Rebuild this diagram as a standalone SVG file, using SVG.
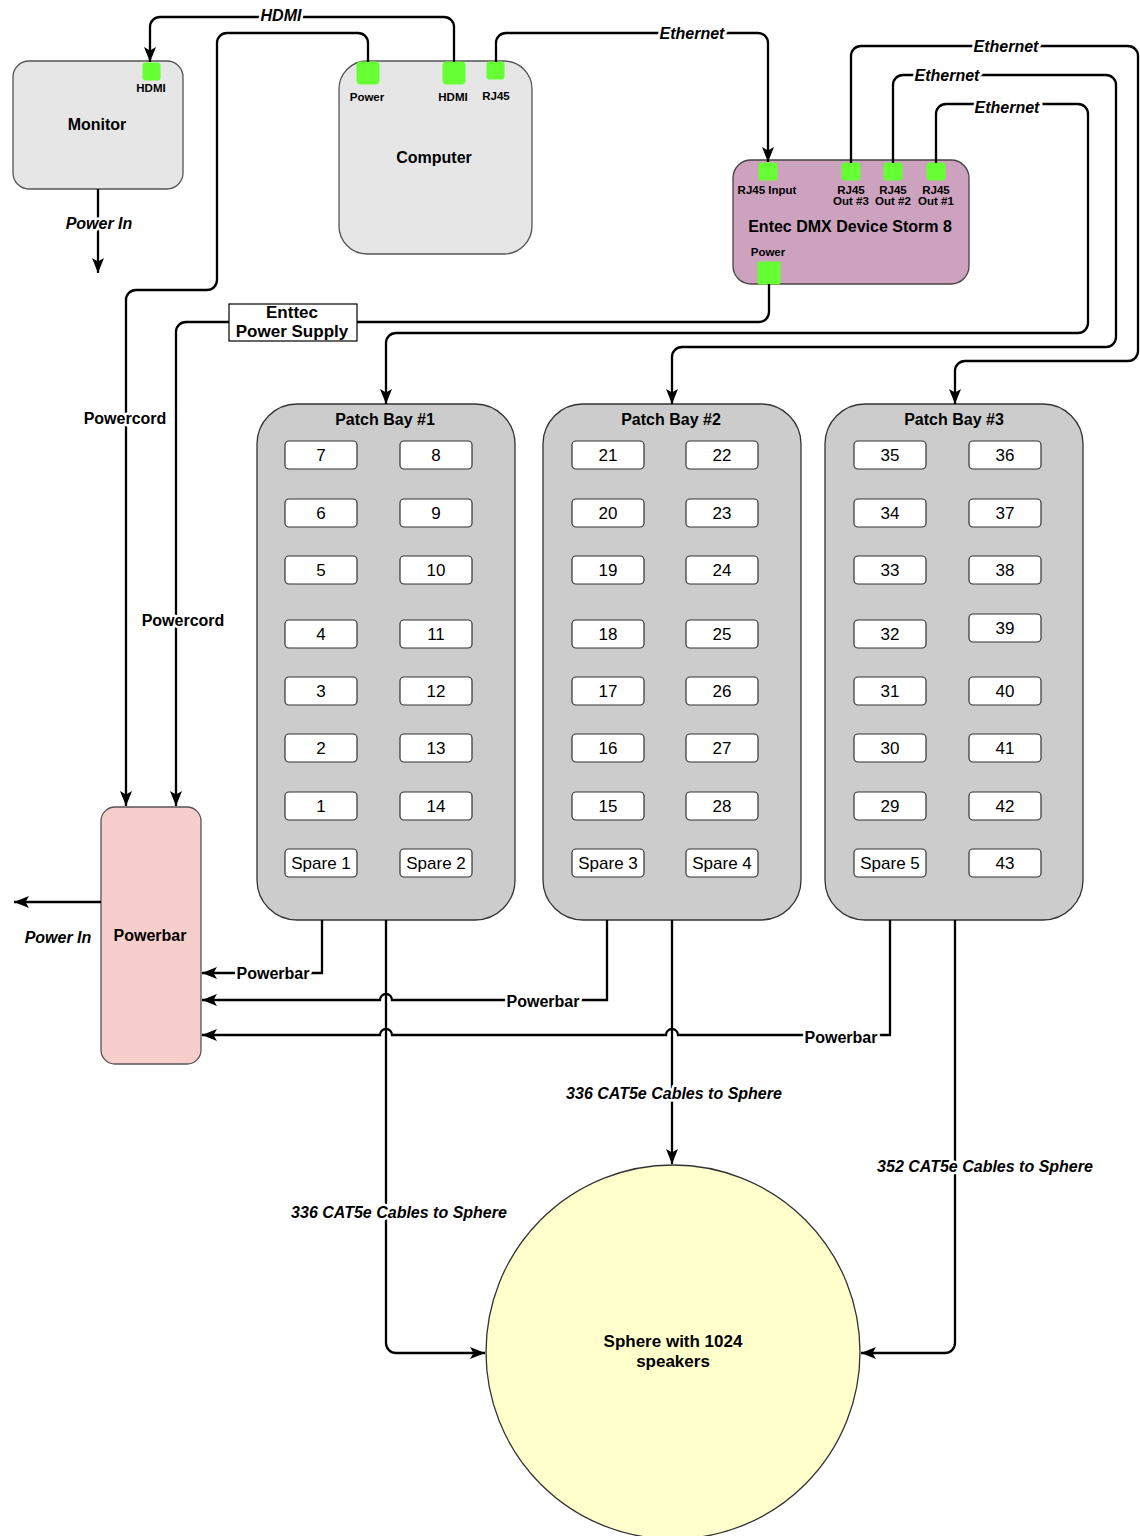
<svg xmlns="http://www.w3.org/2000/svg" width="1140" height="1536" viewBox="0 0 1140 1536">
<style>
text{font-family:"Liberation Sans",Arial,sans-serif;text-anchor:middle;fill:#000}
.node{stroke-width:1.3}
.t{font-weight:bold;font-size:16px}
.pl{font-weight:bold;font-size:11.5px}
.el{font-weight:bold;font-style:italic;font-size:16px;paint-order:stroke;stroke:#fff;stroke-width:5px;stroke-linejoin:round}
.eb{font-weight:bold;font-size:16px;paint-order:stroke;stroke:#fff;stroke-width:5px;stroke-linejoin:round}
.port{fill:#66FF33;stroke:#66FF33;stroke-width:1}
.slot{fill:#fff;stroke:#333;stroke-width:1.2}
.sn{font-size:17px}
.bay{fill:#CCCCCC;stroke:#333;stroke-width:1.3}
.ca{fill:none;stroke:#000;stroke-width:2.3;marker-end:url(#arr)}
</style>
<defs>
<marker id="arr" markerUnits="userSpaceOnUse" markerWidth="16" markerHeight="16" viewBox="0 0 16 16" refX="15" refY="8" orient="auto">
<path d="M0 2 L15 8 L0 14 L3.5 8 Z" fill="#000"/>
</marker>
</defs>
<rect width="1140" height="1536" fill="#fff"/>

<g id="monitor">
<rect class="node" x="13" y="61" width="170" height="128" rx="16" fill="#E6E6E6" stroke="#555"/>
<rect class="port" x="143" y="63" width="17" height="17" rx="2"/>
<text class="pl" x="151" y="92">HDMI</text>
<text class="t" x="97" y="130">Monitor</text>
</g>

<g id="computer">
<rect class="node" x="339" y="61" width="193" height="193" rx="28" fill="#E6E6E6" stroke="#555"/>
<rect class="port" x="357" y="62" width="22" height="22" rx="3"/>
<rect class="port" x="443" y="62" width="22" height="22" rx="3"/>
<rect class="port" x="487" y="62" width="17" height="17" rx="2"/>
<text class="pl" x="367" y="101">Power</text>
<text class="pl" x="453" y="101">HDMI</text>
<text class="pl" x="496" y="100">RJ45</text>
<text class="t" x="434" y="163">Computer</text>
</g>

<g id="dmx">
<rect class="node" x="733" y="160" width="236" height="124" rx="18" fill="#CDA2BE" stroke="#444"/>
<rect class="port" x="759" y="163" width="18" height="17" rx="2"/>
<rect class="port" x="842" y="163" width="18" height="17" rx="2"/>
<rect class="port" x="884" y="163" width="18" height="17" rx="2"/>
<rect class="port" x="927" y="163" width="18" height="17" rx="2"/>
<rect class="port" x="758" y="262" width="22" height="22" rx="1"/>
<text class="pl" x="767" y="194">RJ45 Input</text>
<text class="pl" x="851" y="194">RJ45</text><text class="pl" x="851" y="205">Out #3</text>
<text class="pl" x="893" y="194">RJ45</text><text class="pl" x="893" y="205">Out #2</text>
<text class="pl" x="936" y="194">RJ45</text><text class="pl" x="936" y="205">Out #1</text>
<text class="t" x="850" y="232">Entec DMX Device Storm 8</text>
<text class="pl" x="768" y="256">Power</text>
</g>

<g id="patchbay1">
<rect class="bay" x="257" y="404" width="258" height="516" rx="40"/>
<text class="t" x="385" y="425">Patch Bay #1</text>
<rect class="slot" x="285" y="441" width="72" height="28" rx="4"/><text class="sn" x="321" y="461">7</text>
<rect class="slot" x="400" y="441" width="72" height="28" rx="4"/><text class="sn" x="436" y="461">8</text>
<rect class="slot" x="285" y="499" width="72" height="28" rx="4"/><text class="sn" x="321" y="519">6</text>
<rect class="slot" x="400" y="499" width="72" height="28" rx="4"/><text class="sn" x="436" y="519">9</text>
<rect class="slot" x="285" y="556" width="72" height="28" rx="4"/><text class="sn" x="321" y="576">5</text>
<rect class="slot" x="400" y="556" width="72" height="28" rx="4"/><text class="sn" x="436" y="576">10</text>
<rect class="slot" x="285" y="620" width="72" height="28" rx="4"/><text class="sn" x="321" y="640">4</text>
<rect class="slot" x="400" y="620" width="72" height="28" rx="4"/><text class="sn" x="436" y="640">11</text>
<rect class="slot" x="285" y="677" width="72" height="28" rx="4"/><text class="sn" x="321" y="697">3</text>
<rect class="slot" x="400" y="677" width="72" height="28" rx="4"/><text class="sn" x="436" y="697">12</text>
<rect class="slot" x="285" y="734" width="72" height="28" rx="4"/><text class="sn" x="321" y="754">2</text>
<rect class="slot" x="400" y="734" width="72" height="28" rx="4"/><text class="sn" x="436" y="754">13</text>
<rect class="slot" x="285" y="792" width="72" height="28" rx="4"/><text class="sn" x="321" y="812">1</text>
<rect class="slot" x="400" y="792" width="72" height="28" rx="4"/><text class="sn" x="436" y="812">14</text>
<rect class="slot" x="285" y="849" width="72" height="28" rx="4"/><text class="sn" x="321" y="869">Spare 1</text>
<rect class="slot" x="400" y="849" width="72" height="28" rx="4"/><text class="sn" x="436" y="869">Spare 2</text>
</g>

<g id="patchbay2">
<rect class="bay" x="543" y="404" width="258" height="516" rx="40"/>
<text class="t" x="671" y="425">Patch Bay #2</text>
<rect class="slot" x="572" y="441" width="72" height="28" rx="4"/><text class="sn" x="608" y="461">21</text>
<rect class="slot" x="686" y="441" width="72" height="28" rx="4"/><text class="sn" x="722" y="461">22</text>
<rect class="slot" x="572" y="499" width="72" height="28" rx="4"/><text class="sn" x="608" y="519">20</text>
<rect class="slot" x="686" y="499" width="72" height="28" rx="4"/><text class="sn" x="722" y="519">23</text>
<rect class="slot" x="572" y="556" width="72" height="28" rx="4"/><text class="sn" x="608" y="576">19</text>
<rect class="slot" x="686" y="556" width="72" height="28" rx="4"/><text class="sn" x="722" y="576">24</text>
<rect class="slot" x="572" y="620" width="72" height="28" rx="4"/><text class="sn" x="608" y="640">18</text>
<rect class="slot" x="686" y="620" width="72" height="28" rx="4"/><text class="sn" x="722" y="640">25</text>
<rect class="slot" x="572" y="677" width="72" height="28" rx="4"/><text class="sn" x="608" y="697">17</text>
<rect class="slot" x="686" y="677" width="72" height="28" rx="4"/><text class="sn" x="722" y="697">26</text>
<rect class="slot" x="572" y="734" width="72" height="28" rx="4"/><text class="sn" x="608" y="754">16</text>
<rect class="slot" x="686" y="734" width="72" height="28" rx="4"/><text class="sn" x="722" y="754">27</text>
<rect class="slot" x="572" y="792" width="72" height="28" rx="4"/><text class="sn" x="608" y="812">15</text>
<rect class="slot" x="686" y="792" width="72" height="28" rx="4"/><text class="sn" x="722" y="812">28</text>
<rect class="slot" x="572" y="849" width="72" height="28" rx="4"/><text class="sn" x="608" y="869">Spare 3</text>
<rect class="slot" x="686" y="849" width="72" height="28" rx="4"/><text class="sn" x="722" y="869">Spare 4</text>
</g>

<g id="patchbay3">
<rect class="bay" x="825" y="404" width="258" height="516" rx="40"/>
<text class="t" x="954" y="425">Patch Bay #3</text>
<rect class="slot" x="854" y="441" width="72" height="28" rx="4"/><text class="sn" x="890" y="461">35</text>
<rect class="slot" x="969" y="441" width="72" height="28" rx="4"/><text class="sn" x="1005" y="461">36</text>
<rect class="slot" x="854" y="499" width="72" height="28" rx="4"/><text class="sn" x="890" y="519">34</text>
<rect class="slot" x="969" y="499" width="72" height="28" rx="4"/><text class="sn" x="1005" y="519">37</text>
<rect class="slot" x="854" y="556" width="72" height="28" rx="4"/><text class="sn" x="890" y="576">33</text>
<rect class="slot" x="969" y="556" width="72" height="28" rx="4"/><text class="sn" x="1005" y="576">38</text>
<rect class="slot" x="854" y="620" width="72" height="28" rx="4"/><text class="sn" x="890" y="640">32</text>
<rect class="slot" x="969" y="614" width="72" height="28" rx="4"/><text class="sn" x="1005" y="634">39</text>
<rect class="slot" x="854" y="677" width="72" height="28" rx="4"/><text class="sn" x="890" y="697">31</text>
<rect class="slot" x="969" y="677" width="72" height="28" rx="4"/><text class="sn" x="1005" y="697">40</text>
<rect class="slot" x="854" y="734" width="72" height="28" rx="4"/><text class="sn" x="890" y="754">30</text>
<rect class="slot" x="969" y="734" width="72" height="28" rx="4"/><text class="sn" x="1005" y="754">41</text>
<rect class="slot" x="854" y="792" width="72" height="28" rx="4"/><text class="sn" x="890" y="812">29</text>
<rect class="slot" x="969" y="792" width="72" height="28" rx="4"/><text class="sn" x="1005" y="812">42</text>
<rect class="slot" x="854" y="849" width="72" height="28" rx="4"/><text class="sn" x="890" y="869">Spare 5</text>
<rect class="slot" x="969" y="849" width="72" height="28" rx="4"/><text class="sn" x="1005" y="869">43</text>
</g>

<g id="powerbar">
<rect class="node" x="101" y="807" width="100" height="257" rx="14" fill="#F8CECC" stroke="#555"/>
<text class="t" x="150" y="941">Powerbar</text>
</g>

<g id="sphere">
<circle class="node" cx="673" cy="1352" r="187" fill="#FFFFCC" stroke="#333"/>
<text class="t" x="673" y="1347" style="font-size:17px">Sphere with 1024</text>
<text class="t" x="673" y="1367" style="font-size:17px">speakers</text>
</g>

<g id="connectors">
<path class="ca" d="M454 62 V27 A10 10 0 0 0 444 17 H160 A10 10 0 0 0 150 27 V62"/>
<path class="ca" d="M368 62 V43 A10 10 0 0 0 358 33 H227 A10 10 0 0 0 217 43 V280 A10 10 0 0 1 207 290 H136 A10 10 0 0 0 126 300 V806"/>
<path class="ca" d="M496 62 V43 A10 10 0 0 1 506 33 H758 A10 10 0 0 1 768 43 V162"/>
<path class="ca" d="M769 284 V312 A10 10 0 0 1 759 322 H186 A10 10 0 0 0 176 332 V806"/>
<path class="ca" d="M851 163 V56 A10 10 0 0 1 861 46 H1128 A10 10 0 0 1 1138 56 V351 A10 10 0 0 1 1128 361 H965 A10 10 0 0 0 955 371 V404"/>
<path class="ca" d="M893 163 V85 A10 10 0 0 1 903 75 H1106 A10 10 0 0 1 1116 85 V337 A10 10 0 0 1 1106 347 H682 A10 10 0 0 0 672 357 V404"/>
<path class="ca" d="M936 163 V114 A10 10 0 0 1 946 104 H1078 A10 10 0 0 1 1088 114 V323 A10 10 0 0 1 1078 333 H396 A10 10 0 0 0 386 343 V404"/>
<path class="ca" d="M98 189 V273"/>
<path class="ca" d="M101 902 H14"/>
<path class="ca" d="M322 920 V973 H202"/>
<path class="ca" d="M607 920 V1000 H392 A6 6 0 0 0 380 1000 H202"/>
<path class="ca" d="M890 920 V1035 H678 A6 6 0 0 0 666 1035 H392 A6 6 0 0 0 380 1035 H202"/>
<path class="ca" d="M386 920 V1343 A10 10 0 0 0 396 1353 H485"/>
<path class="ca" d="M672 920 V1164"/>
<path class="ca" d="M955 920 V1343 A10 10 0 0 1 945 1353 H861"/>
<text class="el" x="281" y="21">HDMI</text>
<text class="el" x="692" y="39">Ethernet</text>
<text class="el" x="1006" y="52">Ethernet</text>
<text class="el" x="947" y="81">Ethernet</text>
<text class="el" x="1007" y="113">Ethernet</text>
<text class="el" x="99" y="229">Power In</text>
<text class="el" x="58" y="943">Power In</text>
<text class="eb" x="125" y="424">Powercord</text>
<text class="eb" x="183" y="626">Powercord</text>
<text class="eb" x="273" y="979">Powerbar</text>
<text class="eb" x="543" y="1007">Powerbar</text>
<text class="eb" x="841" y="1043">Powerbar</text>
<text class="el" x="674" y="1099">336 CAT5e Cables to Sphere</text>
<text class="el" x="399" y="1218">336 CAT5e Cables to Sphere</text>
<text class="el" x="985" y="1172">352 CAT5e Cables to Sphere</text>
<g id="enttec-power-supply">
<rect x="229" y="304" width="128" height="37" fill="#fff" stroke="#000" stroke-width="1.2"/>
<text class="t" x="292" y="318" style="font-size:17px">Enttec</text>
<text class="t" x="292" y="337" style="font-size:17px">Power Supply</text>
</g>
</g>
</svg>
